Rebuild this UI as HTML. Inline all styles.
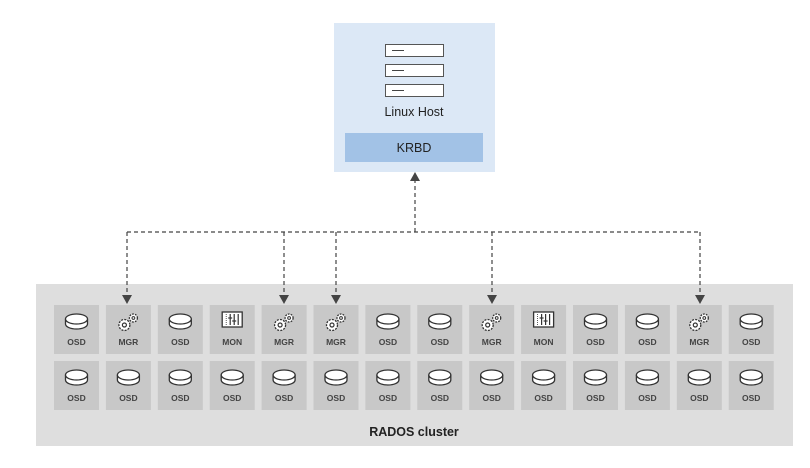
<!DOCTYPE html>
<html><head><meta charset="utf-8"><style>
html,body{margin:0;padding:0;background:#fff;}
svg{display:block;font-family:"Liberation Sans",sans-serif;}
</style></head><body>
<svg width="810" height="468" viewBox="0 0 810 468" xmlns="http://www.w3.org/2000/svg">
<defs>
<g id="osd">
 <rect x="-22.5" y="-26" width="45" height="49" fill="#c8c8c8"/>
 <path d="M-11,-12 v5 a11,5 0 0 0 22,0 v-5" fill="#fff" stroke="#333" stroke-width="1.3"/>
 <ellipse cx="0" cy="-12" rx="11" ry="5" fill="#fff" stroke="#333" stroke-width="1.3"/>
 <text x="0" y="14" text-anchor="middle" font-size="8.5" font-weight="bold" fill="#444">OSD</text>
</g>
<g id="mgr">
 <rect x="-22.5" y="-26" width="45" height="49" fill="#c8c8c8"/>
 <circle cx="-4" cy="-6" r="5.5" fill="#fff" stroke="#333" stroke-width="1.3" stroke-dasharray="2 1.2"/>
 <circle cx="-4" cy="-6" r="2" fill="none" stroke="#333" stroke-width="1.2"/>
 <circle cx="5" cy="-13" r="4" fill="#fff" stroke="#333" stroke-width="1.3" stroke-dasharray="1.8 1.1"/>
 <circle cx="5" cy="-13" r="1.4" fill="none" stroke="#333" stroke-width="1"/>
 <text x="0" y="14" text-anchor="middle" font-size="8.5" font-weight="bold" fill="#444">MGR</text>
</g>
<g id="mon">
 <rect x="-22.5" y="-26" width="45" height="49" fill="#c8c8c8"/>
 <rect x="-10" y="-19" width="20" height="15" fill="#fff" stroke="#333" stroke-width="1.3"/>
 <line x1="-6" y1="-17" x2="-6" y2="-6" stroke="#333" stroke-width="0.8" stroke-dasharray="1 1"/>
 <line x1="-2" y1="-17" x2="-2" y2="-6" stroke="#333" stroke-width="1.2"/>
 <line x1="2" y1="-17" x2="2" y2="-6" stroke="#333" stroke-width="1.2"/>
 <line x1="6" y1="-17" x2="6" y2="-6" stroke="#333" stroke-width="1.2"/>
 <line x1="-4" y1="-13" x2="0" y2="-13" stroke="#333" stroke-width="1.2"/>
 <line x1="0" y1="-10" x2="4" y2="-10" stroke="#333" stroke-width="1.2"/>
 <text x="0" y="14" text-anchor="middle" font-size="8.5" font-weight="bold" fill="#444">MON</text>
</g>
</defs>
<rect x="334" y="23" width="161" height="149" fill="#dce8f6"/>
<g fill="#fff" stroke="#555" stroke-width="1">
<rect x="385.5" y="44.5" width="58" height="12"/>
<rect x="385.5" y="64.5" width="58" height="12"/>
<rect x="385.5" y="84.5" width="58" height="12"/>
</g>
<g stroke="#444" stroke-width="1"><line x1="392" y1="50.5" x2="404" y2="50.5"/><line x1="392" y1="70.5" x2="404" y2="70.5"/><line x1="392" y1="90.5" x2="404" y2="90.5"/></g>
<text x="414" y="116" text-anchor="middle" font-size="12.5" fill="#222">Linux Host</text>
<rect x="345" y="133" width="138" height="29" fill="#a2c2e6"/>
<text x="414" y="152" text-anchor="middle" font-size="12.5" fill="#222">KRBD</text>
<rect x="36" y="284" width="757" height="162" fill="#dedede"/>
<text x="414" y="436" text-anchor="middle" font-size="12.5" font-weight="bold" fill="#222">RADOS cluster</text>
<!-- row 1 -->
<use href="#osd" x="76.5" y="331"/>
<use href="#mgr" x="128.4" y="331"/>
<use href="#osd" x="180.3" y="331"/>
<use href="#mon" x="232.2" y="331"/>
<use href="#mgr" x="284.1" y="331"/>
<use href="#mgr" x="336" y="331"/>
<use href="#osd" x="387.9" y="331"/>
<use href="#osd" x="439.8" y="331"/>
<use href="#mgr" x="491.7" y="331"/>
<use href="#mon" x="543.6" y="331"/>
<use href="#osd" x="595.5" y="331"/>
<use href="#osd" x="647.4" y="331"/>
<use href="#mgr" x="699.3" y="331"/>
<use href="#osd" x="751.2" y="331"/>
<!-- row 2 -->
<use href="#osd" x="76.5" y="387"/>
<use href="#osd" x="128.4" y="387"/>
<use href="#osd" x="180.3" y="387"/>
<use href="#osd" x="232.2" y="387"/>
<use href="#osd" x="284.1" y="387"/>
<use href="#osd" x="336" y="387"/>
<use href="#osd" x="387.9" y="387"/>
<use href="#osd" x="439.8" y="387"/>
<use href="#osd" x="491.7" y="387"/>
<use href="#osd" x="543.6" y="387"/>
<use href="#osd" x="595.5" y="387"/>
<use href="#osd" x="647.4" y="387"/>
<use href="#osd" x="699.3" y="387"/>
<use href="#osd" x="751.2" y="387"/>
<g stroke="#444" stroke-width="1.2" stroke-dasharray="4 3" fill="none">
<line x1="415" y1="232" x2="415" y2="180"/>
<line x1="127" y1="232" x2="700" y2="232"/>
<line x1="127" y1="232" x2="127" y2="296"/>
<line x1="284" y1="232" x2="284" y2="296"/>
<line x1="336" y1="232" x2="336" y2="296"/>
<line x1="492" y1="232" x2="492" y2="296"/>
<line x1="700" y1="232" x2="700" y2="296"/>
</g>
<g fill="#444">
<polygon points="410,181 420,181 415,172"/>
<polygon points="122,295 132,295 127,304"/>
<polygon points="279,295 289,295 284,304"/>
<polygon points="331,295 341,295 336,304"/>
<polygon points="487,295 497,295 492,304"/>
<polygon points="695,295 705,295 700,304"/>
</g>
</svg>
</body></html>
